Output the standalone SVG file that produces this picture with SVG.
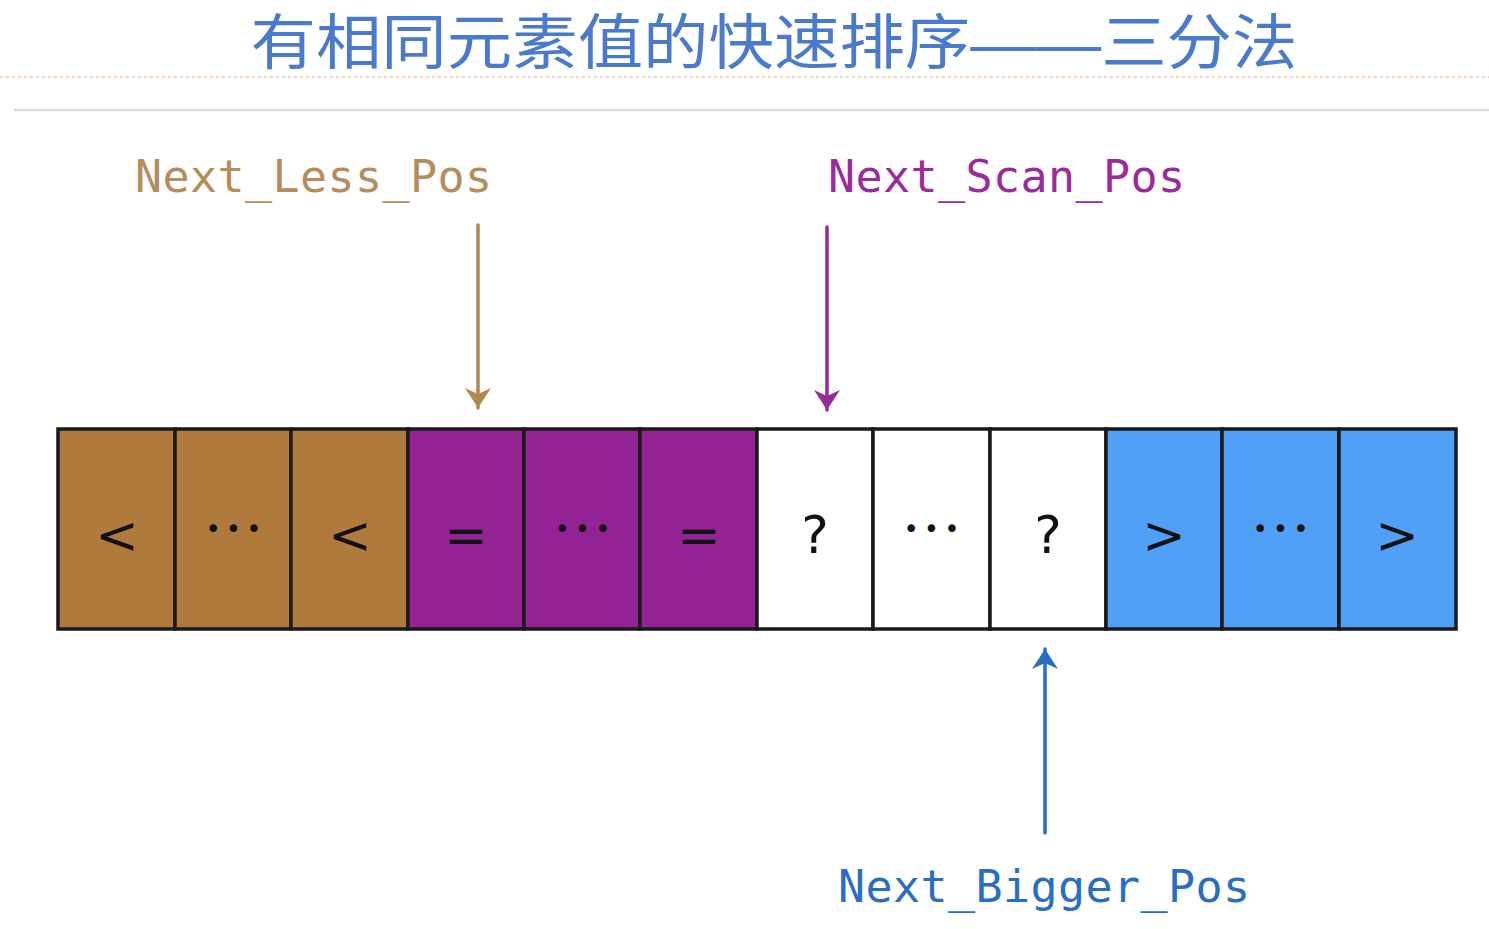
<svg xmlns="http://www.w3.org/2000/svg" width="1489" height="929" viewBox="0 0 1489 929">
<style>
.title{font-family:"Liberation Sans","Noto Sans CJK SC",sans-serif;font-size:60px;fill:#4a7acb;}
.lbl{font-family:"DejaVu Sans Mono","Liberation Mono",monospace;font-size:45px;}
.cell{stroke:#1a1a1a;stroke-width:3.5;}
.sym{font-family:"DejaVu Sans","Liberation Sans",sans-serif;font-size:52px;fill:#111;text-anchor:middle;}
.dots{font-family:"DejaVu Sans","Liberation Sans",sans-serif;font-size:26px;fill:#111;text-anchor:middle;letter-spacing:5px;}
.less{fill:#b07a3c;}
.eq{fill:#932294;}
.q{fill:#ffffff;}
.big{fill:#50a0f8;}
</style>
<defs>
<marker id="ahB" viewBox="0 0 28 28" refX="26" refY="14" markerWidth="28" markerHeight="28" markerUnits="userSpaceOnUse" orient="auto">
<path d="M6,1 L26,14 L6,27 L12,14 Z" fill="#b08850"/>
</marker>
<marker id="ahP" viewBox="0 0 28 28" refX="26" refY="14" markerWidth="28" markerHeight="28" markerUnits="userSpaceOnUse" orient="auto">
<path d="M6,1 L26,14 L6,27 L12,14 Z" fill="#952a98"/>
</marker>
<marker id="ahU" viewBox="0 0 28 28" refX="26" refY="14" markerWidth="28" markerHeight="28" markerUnits="userSpaceOnUse" orient="auto">
<path d="M6,1 L26,14 L6,27 L12,14 Z" fill="#2a6dc4"/>
</marker>
</defs>
<rect width="1489" height="929" fill="#ffffff"/>
<g id="title">
<text class="title" x="774" y="64" text-anchor="middle" textLength="1047" lengthAdjust="spacingAndGlyphs">有相同元素值的快速排序——三分法</text>
<line x1="0" y1="77" x2="1489" y2="77" stroke="#f0c8a8" stroke-width="1.5" stroke-dasharray="3,3"/>
<line x1="14" y1="110" x2="1489" y2="110" stroke="#dcdcdc" stroke-width="2.5"/>
</g>
<g id="label-less"><text class="lbl" x="135" y="192" fill="#b58c5c" textLength="357">Next_Less_Pos</text></g>
<g id="label-scan"><text class="lbl" x="828" y="192" fill="#9b2a9b" textLength="357">Next_Scan_Pos</text></g>
<g id="label-bigger"><text class="lbl" x="838" y="902" fill="#2a6dc4" textLength="412">Next_Bigger_Pos</text></g>
<g id="array">
<rect class="cell less" x="58" y="429" width="117" height="200"/>
<rect class="cell less" x="175" y="429" width="116" height="200"/>
<rect class="cell less" x="291" y="429" width="117" height="200"/>
<rect class="cell eq" x="408" y="429" width="116" height="200"/>
<rect class="cell eq" x="524" y="429" width="116" height="200"/>
<rect class="cell eq" x="640" y="429" width="117" height="200"/>
<rect class="cell q" x="757" y="429" width="116" height="200"/>
<rect class="cell q" x="873" y="429" width="117" height="200"/>
<rect class="cell q" x="990" y="429" width="116" height="200"/>
<rect class="cell big" x="1106" y="429" width="116" height="200"/>
<rect class="cell big" x="1222" y="429" width="117" height="200"/>
<rect class="cell big" x="1339" y="429" width="117" height="200"/>
<text class="sym" x="117" y="553">&lt;</text>
<text class="dots" x="236" y="538">•••</text>
<text class="sym" x="350" y="553">&lt;</text>
<text class="sym" x="466" y="553" fill="#3a0a3a">=</text>
<text class="dots" x="585" y="538" fill="#3a0a3a">•••</text>
<text class="sym" x="699" y="553" fill="#3a0a3a">=</text>
<text class="sym" x="815" y="553">?</text>
<text class="dots" x="934" y="538">•••</text>
<text class="sym" x="1048" y="553">?</text>
<text class="sym" x="1164" y="553" fill="#0a1a40">&gt;</text>
<text class="dots" x="1283" y="538" fill="#0a1a40">•••</text>
<text class="sym" x="1397" y="553" fill="#0a1a40">&gt;</text>
</g>
<g id="connectors">
<line x1="478" y1="225" x2="478" y2="408" stroke="#b08850" stroke-width="3.5" stroke-linecap="round" marker-end="url(#ahB)"/>
<line x1="827" y1="227" x2="827" y2="410" stroke="#952a98" stroke-width="3.5" stroke-linecap="round" marker-end="url(#ahP)"/>
<line x1="1045" y1="833" x2="1045" y2="649" stroke="#2a6dc4" stroke-width="3.5" stroke-linecap="round" marker-end="url(#ahU)"/>
</g>
</svg>
